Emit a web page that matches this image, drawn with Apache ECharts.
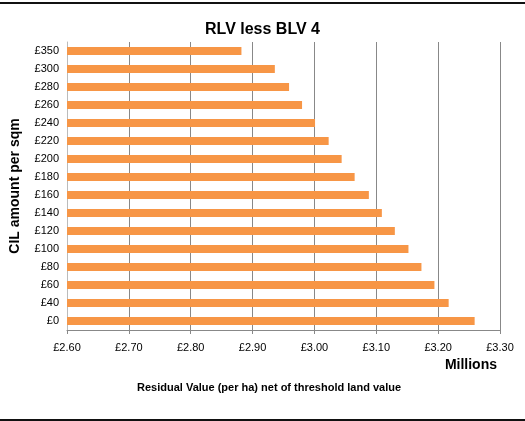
<!DOCTYPE html>
<html>
<head>
<meta charset="utf-8">
<script src="https://cdn.jsdelivr.net/npm/echarts@6/dist/echarts.min.js"></script>
<style>
  html, body { margin: 0; padding: 0; background: #fff; }
  #chart { width: 525px; height: 421px; }
</style>
</head>
<body>
<div id="chart"></div>
<script>
// CIL rates (bottom to top)
const cilRates = ["£0", "£40", "£60", "£80", "£100", "£120", "£140", "£160",
  "£180", "£200", "£220", "£240", "£260", "£280", "£300", "£350"];
// residual value net of threshold, £ millions
const residualValues = [3.259, 3.217, 3.194, 3.173, 3.152, 3.130, 3.109, 3.088,
  3.065, 3.044, 3.023, 3.001, 2.980, 2.959, 2.936, 2.882];

const chart = echarts.init(document.getElementById("chart"), null, { renderer: "canvas" });

const font = "Arial, 'Liberation Sans', sans-serif";

const option = {
  animation: false,
  title: {
    text: "RLV less BLV 4",
    left: "center",
    top: 17,
    textStyle: { fontFamily: font, fontSize: 16, fontWeight: "bold", color: "#000" }
  },
  grid: { left: 67, right: 25, top: 42, bottom: 91, containLabel: false },
  xAxis: {
    type: "value",
    min: 2.6,
    max: 3.3,
    interval: 0.1,
    axisLine: { show: true, lineStyle: { color: "#888", width: 1 } },
    axisTick: { show: true, length: 4, lineStyle: { color: "#888" } },
    splitLine: { show: true, lineStyle: { color: "#888", width: 1 } },
    axisLabel: {
      margin: 12,
      fontFamily: font, fontSize: 11, color: "#000",
      formatter: v => "£" + v.toFixed(2)
    }
  },
  yAxis: {
    type: "category",
    data: cilRates,
    name: "CIL amount per sqm",
    nameLocation: "middle",
    nameGap: 45,
    nameTextStyle: { fontFamily: font, fontSize: 14, fontWeight: "bold", color: "#000" },
    axisLine: { show: true, lineStyle: { color: "#bbb" } },
    axisTick: { show: false },
    axisLabel: { margin: 8, fontFamily: font, fontSize: 11, color: "#000" }
  },
  series: [{
    type: "bar",
    data: residualValues,
    barWidth: 8,
    itemStyle: { color: "#F79646" }
  }],
  graphic: [
    {
      type: "text", right: 28, top: 358,
      style: { text: "Millions", fontFamily: font, fontSize: 14, fontWeight: "bold", fill: "#000" }
    },
    {
      type: "text", left: 137, top: 382,
      style: { text: "Residual Value (per ha) net of threshold land value",
        fontFamily: font, fontSize: 11, fontWeight: "bold", fill: "#000" }
    },
    { type: "rect", shape: { x: 0, y: 2, width: 525, height: 2 }, style: { fill: "#111" } },
    { type: "rect", shape: { x: 0, y: 419, width: 525, height: 2 }, style: { fill: "#111" } }
  ]
};

chart.setOption(option);
</script>
</body>
</html>
